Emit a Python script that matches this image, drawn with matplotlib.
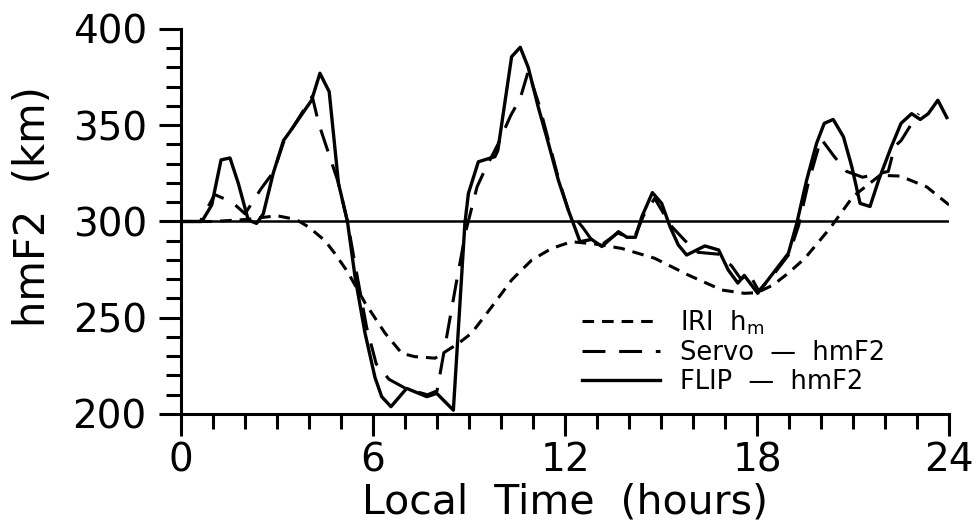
import matplotlib
matplotlib.use('Agg')
import matplotlib.pyplot as plt
from matplotlib.ticker import MultipleLocator

plt.rcParams['font.family'] = ['DejaVu Sans']

# IRI model hmF2 (short dashes)
hours_iri = [0, 1, 2, 3, 3.6, 4.0, 4.5, 4.8, 5.2, 5.75, 6.375, 6.9, 7.3, 7.94,
             8.67, 9.08, 9.71, 10.33, 10.96, 11.58, 12.2, 12.94, 13.77, 14.8,
             15.85, 16.9, 17.6, 18.0, 18.5, 19.0, 19.5, 20.28, 21.0, 21.84,
             22.47, 23.3, 24]
km_iri = [300, 300, 301, 303, 301, 297, 290, 283.5, 274, 257.7, 242, 231.5,
          229.8, 229, 236.7, 242, 255.7, 269.6, 280, 286, 289.5, 288.3, 286,
          280.9, 272.2, 264.4, 262.7, 263, 267, 273.5, 281, 296.5, 313, 324,
          323.6, 318, 308.6]

# Servo model hmF2 (long dashes)
hours_servo = [0, 0.6, 1.05, 1.6, 2.0, 2.5, 2.9, 3.2, 3.5, 4.1, 4.3, 4.5, 4.7,
               4.9, 5.2, 5.5, 5.8, 6.1, 6.5, 7.05, 7.7, 8.0, 8.3, 8.6, 8.9,
               9.25, 9.5, 9.9, 10.3, 10.6, 10.85, 11.2, 11.5, 11.8, 12.1, 12.55,
               12.85, 13.15, 13.65, 13.95, 14.2, 14.45, 14.8, 15.3, 15.75,
               16.15, 16.8, 17.2, 17.5, 17.75, 18.05, 18.45, 19.0, 19.3, 19.6,
               20.0, 20.4, 20.8, 21.3, 22.1, 22.3, 22.5, 22.8, 23.05]
km_servo = [300, 300, 314, 310, 304, 317, 326, 341, 349, 365, 351, 341, 331,
            321, 300, 272, 245, 226, 218, 213, 210, 212, 240, 268, 295, 318,
            327, 340, 355, 364, 378, 360, 341, 322, 306, 297, 290, 288, 294,
            292, 293, 303, 312, 298, 290, 284, 283, 277, 270, 273, 264, 271,
            283, 298, 320, 343, 334, 326, 323, 326, 339, 342, 350, 356]

# FLIP model hmF2 (solid)
hours_flip = [0, 0.65, 0.96, 1.25, 1.53, 1.79, 2.1, 2.36, 2.57, 2.88, 3.2, 3.4,
              4.08, 4.34, 4.63, 4.92, 5.2, 5.44, 5.75, 6.06, 6.27, 6.56, 7.05,
              7.68, 7.99, 8.51, 8.87, 8.98, 9.29, 9.81, 9.9, 10.33, 10.6,
              10.85, 11.16, 11.48, 11.79, 12.1, 12.47, 12.83, 13.15, 13.67,
              13.93, 14.2, 14.4, 14.73, 15.02, 15.28, 15.54, 15.8, 16.37, 16.8,
              17.1, 17.4, 17.6, 18.02, 18.98, 19.24, 19.55, 19.86, 20.1, 20.38,
              20.7, 20.96, 21.22, 21.53, 21.8, 22.2, 22.5, 22.83, 23.1, 23.35,
              23.65, 23.93]
km_flip = [300, 300, 308.6, 332, 333, 319.8, 300.8, 299, 304, 325, 342, 346.6,
           363, 377, 367.4, 319.8, 300, 271, 242, 219, 209, 203.8, 213.3, 209,
           210.7, 202, 299, 314.6, 331, 333.7, 337, 385.6, 390.5, 380, 359.6,
           340.6, 321.5, 306, 289.5, 290.7, 287, 294.7, 291.8, 291.8, 302.5,
           315, 309.4, 297.3, 287.8, 282.6, 287.3, 285.2, 274.8, 268, 272,
           262.7, 283.5, 299, 321.5, 340.6, 351, 353, 344, 328.5, 309.4, 307.8,
           321.5, 339, 351, 356, 353, 356, 363, 354]

labels = ['IRI  h$_\\mathregular{m}$', 'Servo  \u2014  hmF2', 'FLIP  \u2014  hmF2']

fig = plt.figure(figsize=(9.77, 5.29), dpi=100)
ax = fig.add_axes([0.1853, 0.2174, 0.7861, 0.7278])

l_iri, = ax.plot(hours_iri, km_iri, color='black', lw=2.2,
                 linestyle=(0, (3.8, 2.6)))
l_servo, = ax.plot(hours_servo, km_servo, color='black', lw=2.2,
                   linestyle=(0, (7.5, 4.5)))
l_flip, = ax.plot(hours_flip, km_flip, color='black', lw=2.4)
ax.axhline(300, color='black', lw=1.8)

ax.set_xlim(0, 24)
ax.set_ylim(200, 400)
for s in ['top', 'right']:
    ax.spines[s].set_visible(False)
for s in ['left', 'bottom']:
    ax.spines[s].set_linewidth(2.2)

ax.xaxis.set_major_locator(MultipleLocator(6))
ax.xaxis.set_minor_locator(MultipleLocator(1))
ax.yaxis.set_major_locator(MultipleLocator(50))
ax.yaxis.set_minor_locator(MultipleLocator(10))
ax.tick_params(which='major', direction='out', length=15.6, width=2.2, labelsize=28)
ax.tick_params(which='minor', direction='out', length=10.8, width=2.2)
ax.tick_params(axis='y', which='major', pad=9)
ax.tick_params(axis='x', which='major', pad=4)

ax.set_xlabel('Local  Time  (hours)', fontsize=29.5)
ax.set_ylabel('hmF2  (km)', fontsize=30)
ax.xaxis.set_label_coords(0.5, -0.178)
ax.yaxis.set_label_coords(-0.165, 0.54)

ax.legend([l_iri, l_servo, l_flip], labels, loc='upper left',
          bbox_to_anchor=(0.522, 0.275), frameon=False, fontsize=18.5,
          handlelength=3.05, handletextpad=0.78, labelspacing=0.13,
          borderpad=0, borderaxespad=0)

fig.savefig('out.png', dpi=100)
